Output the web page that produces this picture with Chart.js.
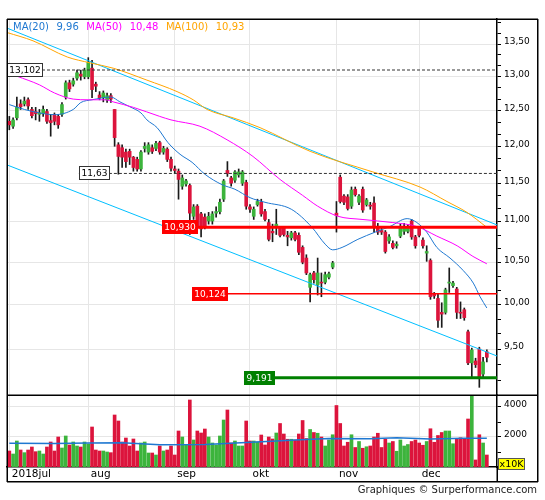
<!DOCTYPE html>
<html lang="fr">
<head>
<meta charset="UTF-8">
<title>Graphique</title>
<script src="https://cdn.jsdelivr.net/npm/chart.js"></script>
<style>
  body { margin: 0; background: #fff; }
  #wrap { position: relative; width: 545px; height: 500px; }
  canvas { position: absolute; left: 0; }
  #price { top: 0; }
  #vol { top: 385px; }
</style>
</head>
<body>
<div id="wrap">
  <canvas id="price" width="545" height="405"></canvas>
  <canvas id="vol" width="545" height="115"></canvas>
</div>
<script>
// ---- data (index 0 = first session of july 2018) ----
const monthIdx = [0, 21, 44, 64, 87, 109];
const monthLbl = ['2018jul', 'aug', 'sep', 'okt', 'nov', 'dec'];

const opens = [12.35,12.28,12.40,12.60,12.60,12.66,12.52,12.49,12.45,12.46,
  12.49,12.36,12.45,12.42,12.45,12.70,12.91,12.89,12.98,13.04,
  13.00,13.00,13.13,12.89,12.73,12.69,12.66,12.72,12.52,12.02,
  11.98,11.92,11.93,11.85,11.82,11.69,11.97,11.92,11.98,11.97,
  12.05,11.92,11.96,11.82,11.69,11.66,11.46,11.49,11.47,11.07,
  11.20,11.10,11.06,11.01,11.01,11.11,11.13,11.29,11.67,11.57,
  11.54,11.61,11.50,11.51,11.19,11.07,11.22,11.25,11.13,10.99,
  10.88,10.93,10.92,10.92,10.83,10.80,10.86,10.83,10.68,10.55,
  10.20,10.37,10.23,10.26,10.26,10.32,10.44,11.11,11.58,11.33,
  11.32,11.20,11.42,11.25,11.42,11.22,11.21,11.24,10.93,10.89,
  10.87,10.76,10.73,10.70,10.82,10.88,10.88,11.01,10.81,10.92,
  10.77,10.61,10.52,10.12,10.07,9.91,9.91,10.25,10.22,10.18,
  9.91,9.94,9.69,9.35,9.37,9.50,9.23,9.47];
const highs = [12.42,12.40,12.70,12.66,12.70,12.69,12.55,12.55,12.52,12.57,
  12.52,12.45,12.47,12.45,12.62,12.94,12.95,12.98,13.10,13.10,
  13.13,13.29,13.25,12.92,12.78,12.79,12.76,12.75,12.52,12.05,
  12.02,11.96,11.96,11.86,11.85,11.94,12.05,12.05,12.02,12.07,
  12.07,12.00,11.98,11.85,11.73,11.69,11.61,11.55,11.49,11.22,
  11.22,11.12,11.10,11.12,11.13,11.19,11.29,11.55,11.79,11.59,
  11.67,11.69,11.67,11.54,11.22,11.19,11.29,11.29,11.16,11.03,
  10.97,11.16,10.94,10.94,10.88,10.88,10.88,10.86,10.70,10.59,
  10.37,10.39,10.55,10.37,10.38,10.38,10.51,11.26,11.61,11.35,
  11.35,11.45,11.45,11.35,11.45,11.30,11.25,11.32,10.98,10.92,
  10.89,10.84,10.76,10.75,10.97,10.98,10.96,11.03,10.83,10.94,
  10.80,10.70,10.54,10.14,10.13,10.02,10.19,10.43,10.27,10.20,
  10.03,9.96,9.71,9.51,9.40,9.52,9.41,9.49];
const lows = [12.23,12.25,12.37,12.52,12.57,12.52,12.40,12.37,12.35,12.42,
  12.32,12.14,12.30,12.25,12.42,12.67,12.78,12.86,12.95,12.95,
  12.97,12.97,12.69,12.78,12.66,12.63,12.62,12.62,12.00,11.62,
  11.71,11.71,11.75,11.66,11.66,11.66,11.92,11.89,11.90,11.94,
  11.89,11.89,11.79,11.66,11.63,11.29,11.42,11.46,10.84,11.03,
  10.91,10.81,10.91,10.97,10.97,11.06,11.10,11.26,11.59,11.46,
  11.51,11.58,11.47,11.16,11.12,11.03,11.20,11.07,11.01,10.76,
  10.75,10.84,10.81,10.82,10.70,10.77,10.76,10.59,10.48,10.35,
  10.03,10.25,10.11,10.09,10.24,10.30,10.42,10.87,11.24,11.22,
  11.15,11.17,11.33,11.22,11.12,11.20,11.16,10.87,10.84,10.84,
  10.61,10.73,10.66,10.67,10.80,10.84,10.86,10.78,10.67,10.81,
  10.67,10.51,10.06,10.07,9.74,9.74,9.89,10.14,10.20,9.84,
  9.84,9.82,9.33,9.20,9.30,9.09,9.20,9.36];
const closes = [12.30,12.37,12.55,12.56,12.64,12.57,12.43,12.46,12.47,12.52,
  12.35,12.33,12.35,12.30,12.59,12.91,12.82,12.94,13.06,13.01,
  13.10,13.22,12.81,12.86,12.69,12.76,12.72,12.67,12.12,11.86,
  11.85,11.79,11.85,11.71,11.69,11.92,12.00,12.02,11.93,12.04,
  11.92,11.97,11.82,11.70,11.67,11.55,11.57,11.53,11.11,11.19,
  10.94,10.91,10.94,11.07,11.10,11.13,11.25,11.53,11.63,11.50,
  11.65,11.65,11.65,11.20,11.16,11.16,11.26,11.10,11.03,10.78,
  10.86,10.97,10.83,10.84,10.81,10.86,10.78,10.62,10.50,10.37,
  10.35,10.29,10.37,10.25,10.35,10.36,10.49,11.08,11.26,11.25,
  11.17,11.41,11.35,11.33,11.15,11.28,11.20,10.94,10.87,10.87,
  10.63,10.81,10.68,10.72,10.94,10.94,10.92,10.81,10.70,10.83,
  10.70,10.63,10.09,10.10,9.82,9.89,10.17,10.26,10.25,9.91,
  9.90,9.85,9.35,9.49,9.33,9.20,9.36,9.41];
// volume, in units of 10K
const volumes = [1067,867,1733,1133,956,1133,1333,1022,1067,867,
  1333,1667,1067,2000,1267,2067,1467,1667,1400,1333,
  1667,1533,2667,1133,1067,1067,1000,956,3467,3067,
  1667,1933,1400,1867,1067,1600,1667,933,933,800,
  1400,1067,1133,1400,800,2400,2000,1500,4467,1800,
  2400,2267,2533,2000,1600,1467,2067,3133,3800,1600,
  1733,1400,1400,3067,1733,1733,1667,2133,1467,2000,
  1867,2267,2900,2200,1850,1850,1800,2200,3100,1900,
  2500,2300,2250,2000,1400,1800,2150,4100,2900,1400,
  1650,2150,1300,1700,1250,1350,1400,2000,2250,1300,
  1850,1600,1700,1050,1800,1400,1500,1700,1800,1600,
  1450,1700,2550,1650,2100,2300,2400,2400,1550,1850,
  1950,1850,3200,4900,470,2150,1600,800];

const ma20 = [[0,12.59],[4,12.52],[8,12.47],[12,12.445],[17,12.52],[19,12.62],[22,12.66],
  [27,12.70],[29.4,12.63],[32,12.56],[35,12.47],[36.6,12.37],[39.3,12.26],[42.2,12.05],
  [45.4,11.89],[48.6,11.78],[52,11.62],[56.6,11.48],[60,11.42],[64,11.31],[68,11.25],
  [75,11.16],[80.5,10.93],[84,10.72],[86,10.65],[88.5,10.68],[92.7,10.78],[97.3,10.87],
  [101.2,10.94],[105.8,11.04],[108.4,10.99],[111,10.87],[113.7,10.68],[117.2,10.55],
  [120.7,10.40],[123.4,10.25],[125.2,10.09],[127,9.96]];
const ma50 = [[2,13.01],[8,12.88],[12,12.76],[17,12.67],[21,12.66],[25.5,12.66],[27.6,12.63],
  [33,12.55],[40,12.42],[43,12.37],[50.7,12.28],[57.9,12.09],[64.8,11.86],[72,11.55],
  [78,11.34],[82,11.20],[87.4,11.07],[93.8,11.03],[102,10.99],[108.4,10.94],[113.7,10.82],
  [119.1,10.70],[123.3,10.57],[127,10.48]];
const ma100 = [[-0.6,13.68],[6.3,13.55],[15.4,13.30],[21.5,13.21],[27.6,13.13],[36.6,12.95],
  [44.6,12.78],[48.9,12.66],[52.6,12.52],[59.5,12.40],[66.7,12.26],[80,11.93],[96.7,11.65],
  [109.2,11.45],[116.4,11.26],[121.7,11.12],[127,10.93]];
const maNames = ['MA(20)', 'MA(50)', 'MA(100)'];

const volMA = [[0,1580],[12,1570],[21,1600],[30,1610],[40,1480],[52,1500],[63,1640],[71,1730],
  [76,1800],[85,1900],[96,1880],[103,1950],[112,1870],[121,1920],[127,1910]];

const chanUpper = [[-0.62,13.75],[129.7,10.96]];
const chanLower = [[-0.62,11.745],[129.7,9.424]];

const levels = [13.102, 11.63, 10.93, 10.124, 9.191];
const levelText = ['13,102', '11,63', '10,930', '10,124', '9,191'];

const priceTicks = [9.5, 10, 10.5, 11, 11.5, 12, 12.5, 13, 13.5];
const volTicks = [2000, 4000];

// ---- styling ----
const X_MIN = -0.62, X_MAX = 129.7;
const RED = '#dc143c', GREEN = '#3cb43c', GRID = '#e6e6e6';
const maColors = ['#1f78d1', '#ff00ff', '#ffa500'];
const FONT = '"DejaVu Sans", Verdana, sans-serif';
const levelStyle = [
  { from: -0.62, line: '#333', width: 1, dash: [3, 2], box: '#fff', edge: '#333', text: '#000' },
  { from: 18.5, line: '#333', width: 1, dash: [3, 2], box: '#fff', edge: '#333', text: '#000' },
  { from: 40.6, line: '#ff0000', width: 3, dash: [], box: '#ff0000', edge: null, text: '#fff' },
  { from: 48.6, line: '#ff0000', width: 1.5, dash: [], box: '#ff0000', edge: null, text: '#fff' },
  { from: 62.4, line: '#008000', width: 3, dash: [], box: '#008000', edge: null, text: '#fff' }
];

const idx = opens.map((_, i) => i);
const upDay = i => closes[i] >= opens[i];
const pts = arr => arr.map(p => ({ x: p[0], y: p[1] }));
const comma = (v, d) => v.toFixed(d).replace('.', ',');
const near = (a, list) => list.some(t => Math.abs(t - a) < 1e-6);

// minor ticks every third of the labelled step
const yTicks = [];
[9.0].concat(priceTicks).forEach(t => { yTicks.push(t, t + 1/6, t + 2/6); });
const Y_MIN = 9.01, Y_MAX = 13.895;

function xScale(showLabels) {
  return {
    type: 'linear', min: X_MIN, max: X_MAX, offset: false,
    afterBuildTicks: s => { s.ticks = monthIdx.map(v => ({ value: v })); },
    afterFit: s => { s.height = showLabels ? 15 : 0; },
    ticks: {
      display: showLabels, autoSkip: false, maxRotation: 0, minRotation: 0,
      align: 'start', labelOffset: 2.5, padding: 1, color: '#000',
      font: { family: FONT, size: 10.5 },
      callback: v => monthLbl[monthIdx.indexOf(v)]
    },
    grid: { color: GRID, drawTicks: false, offset: false },
    border: { display: showLabels, color: '#000', width: 1.5 }
  };
}

function line(data, color, width, order, extra) {
  return Object.assign({
    type: 'line', data: data, borderColor: color, borderWidth: width,
    pointRadius: 0, fill: false, order: order, cubicInterpolationMode: 'monotone'
  }, extra || {});
}

function frameLines(ctx, segs) {
  ctx.save();
  ctx.strokeStyle = '#000';
  ctx.lineWidth = 1.5;
  ctx.beginPath();
  segs.forEach(s => { ctx.moveTo(s[0], s[1]); ctx.lineTo(s[2], s[3]); });
  ctx.stroke();
  ctx.restore();
}

const priceDecor = {
  id: 'priceDecor',
  afterDatasetsDraw(chart) {
    const { ctx, chartArea: a, scales: { x, y } } = chart;
    ctx.save();
    ctx.font = '9px ' + FONT;
    ctx.textBaseline = 'middle';
    ctx.textAlign = 'center';
    levels.forEach((v, k) => {
      const s = levelStyle[k];
      const py = Math.round(y.getPixelForValue(v));
      const w = Math.round(ctx.measureText(levelText[k]).width + 5);
      const left = Math.max(Math.round(x.getPixelForValue(s.from)), a.left);
      ctx.fillStyle = s.box;
      ctx.fillRect(left, py - 7, w, 14);
      if (s.edge) {
        ctx.strokeStyle = s.edge;
        ctx.lineWidth = 1;
        ctx.strokeRect(left + 0.5, py - 6.5, w - 1, 13);
      }
      ctx.fillStyle = s.text;
      ctx.fillText(levelText[k], left + w / 2, py + 0.5);
    });
    ctx.restore();
  },
  afterDraw(chart) {
    const ctx = chart.ctx;
    frameLines(ctx, [[7, 19.25, 538, 19.25], [7.25, 19, 7.25, 395], [537.75, 19, 537.75, 395]]);
    // legend with last MA values
    ctx.save();
    ctx.font = '10px ' + FONT;
    ctx.textBaseline = 'middle';
    ctx.textAlign = 'left';
    let px = 13;
    [ma20, ma50, ma100].forEach((m, k) => {
      ctx.fillStyle = maColors[k];
      ctx.fillText(maNames[k], px, 27);
      px += ctx.measureText(maNames[k]).width + 7.5;
      const val = comma(m[m.length - 1][1], 2);
      ctx.fillText(val, px, 27);
      px += ctx.measureText(val).width + 7.5;
    });
    ctx.restore();
  }
};

// volume canvas starts 10px above the panel top (page y 385)
const volDecor = {
  id: 'volDecor',
  afterDraw(chart) {
    const ctx = chart.ctx;
    frameLines(ctx, [[7, 10.25, 538, 10.25], [7.25, 10, 7.25, 97], [537.75, 10, 537.75, 97],
      [7, 96.75, 538, 96.75], [497.25, 81, 497.25, 97]]);
    ctx.save();
    ctx.fillStyle = '#ffff00';
    ctx.fillRect(498, 73, 27, 12);
    ctx.strokeStyle = '#555';
    ctx.lineWidth = 1;
    ctx.strokeRect(498.5, 73.5, 26, 11);
    ctx.fillStyle = '#000';
    ctx.font = '9.5px ' + FONT;
    ctx.textBaseline = 'middle';
    ctx.textAlign = 'center';
    ctx.fillText('x10K', 511.5, 79.5);
    ctx.fillStyle = '#222';
    ctx.font = '10px ' + FONT;
    ctx.textAlign = 'right';
    ctx.fillText('Graphiques \u00a9 Surperformance.com', 537, 105);
    ctx.restore();
  }
};

const common = {
  responsive: false, animation: false, devicePixelRatio: 1, events: [],
  plugins: { legend: { display: false }, tooltip: { enabled: false } }
};

// ---- price panel ----
const datasets = [
  { type: 'bar', data: idx.map(i => ({ x: i, y: [lows[i], highs[i]] })),
    backgroundColor: '#1a1a1a', barThickness: 1, grouped: false, order: 5 },
  { type: 'bar', data: idx.map(i => ({ x: i, y: [opens[i], closes[i]] })),
    backgroundColor: idx.map(i => upDay(i) ? GREEN : RED),
    barThickness: 3, minBarLength: 1, grouped: false, order: 4 },
  line(pts(chanUpper), '#00bfff', 1, 2),
  line(pts(chanLower), '#00bfff', 1, 2),
  line(pts(ma100), maColors[2], 1, 1),
  line(pts(ma50), maColors[1], 1, 1),
  line(pts(ma20), maColors[0], 1, 1)
];
levels.forEach((v, k) => {
  const s = levelStyle[k];
  datasets.push(line([{ x: s.from, y: v }, { x: X_MAX, y: v }], s.line, s.width, 0,
    { borderDash: s.dash, cubicInterpolationMode: 'default' }));
});

new Chart(document.getElementById('price').getContext('2d'), {
  type: 'bar',
  data: { datasets: datasets },
  options: Object.assign({}, common, {
    layout: { padding: { left: 7, right: 7, top: 19, bottom: 10 } },
    scales: {
      x: xScale(false),
      y: {
        type: 'logarithmic', position: 'right', min: Y_MIN, max: Y_MAX,
        afterFit: s => { s.width = 41; },
        afterBuildTicks: s => {
          s.ticks = yTicks.filter(v => v >= Y_MIN && v <= Y_MAX).map(v => ({ value: v }));
        },
        ticks: {
          autoSkip: false, color: '#000', padding: 3, labelOffset: -2,
          font: { family: FONT, size: 9 },
          callback: v => near(v, priceTicks) ? comma(v, 2) : ''
        },
        grid: {
          color: c => (c.tick && near(c.tick.value, priceTicks)) ? GRID : 'rgba(0,0,0,0)',
          tickColor: '#000', tickLength: 4
        },
        border: { color: '#000', width: 1.5 }
      }
    }
  }),
  plugins: [priceDecor]
});

// ---- volume panel ----
new Chart(document.getElementById('vol').getContext('2d'), {
  type: 'bar',
  data: {
    datasets: [
      line(pts(volMA), '#1f78d1', 1.5, 0, { cubicInterpolationMode: 'default' }),
      { type: 'bar', data: idx.map(i => ({ x: i, y: volumes[i] })),
        backgroundColor: idx.map(i => upDay(i) ? GREEN : RED),
        barThickness: 3, grouped: false, order: 1 }
    ]
  },
  options: Object.assign({}, common, {
    layout: { padding: { left: 7, right: 7, top: 10, bottom: 18 } },
    scales: {
      x: xScale(true),
      y: {
        position: 'right', min: 0, max: 4800,
        afterFit: s => { s.width = 41; },
        afterBuildTicks: s => { s.ticks = [1000, 2000, 3000, 4000].map(v => ({ value: v })); },
        ticks: {
          autoSkip: false, color: '#000', padding: 3, labelOffset: -2,
          font: { family: FONT, size: 9 },
          callback: v => volTicks.includes(v) ? String(v) : ''
        },
        grid: {
          color: c => (c.tick && volTicks.includes(c.tick.value)) ? GRID : 'rgba(0,0,0,0)',
          tickColor: '#000', tickLength: 4
        },
        border: { color: '#000', width: 1.5 }
      }
    }
  }),
  plugins: [volDecor]
});
</script>
</body>
</html>
